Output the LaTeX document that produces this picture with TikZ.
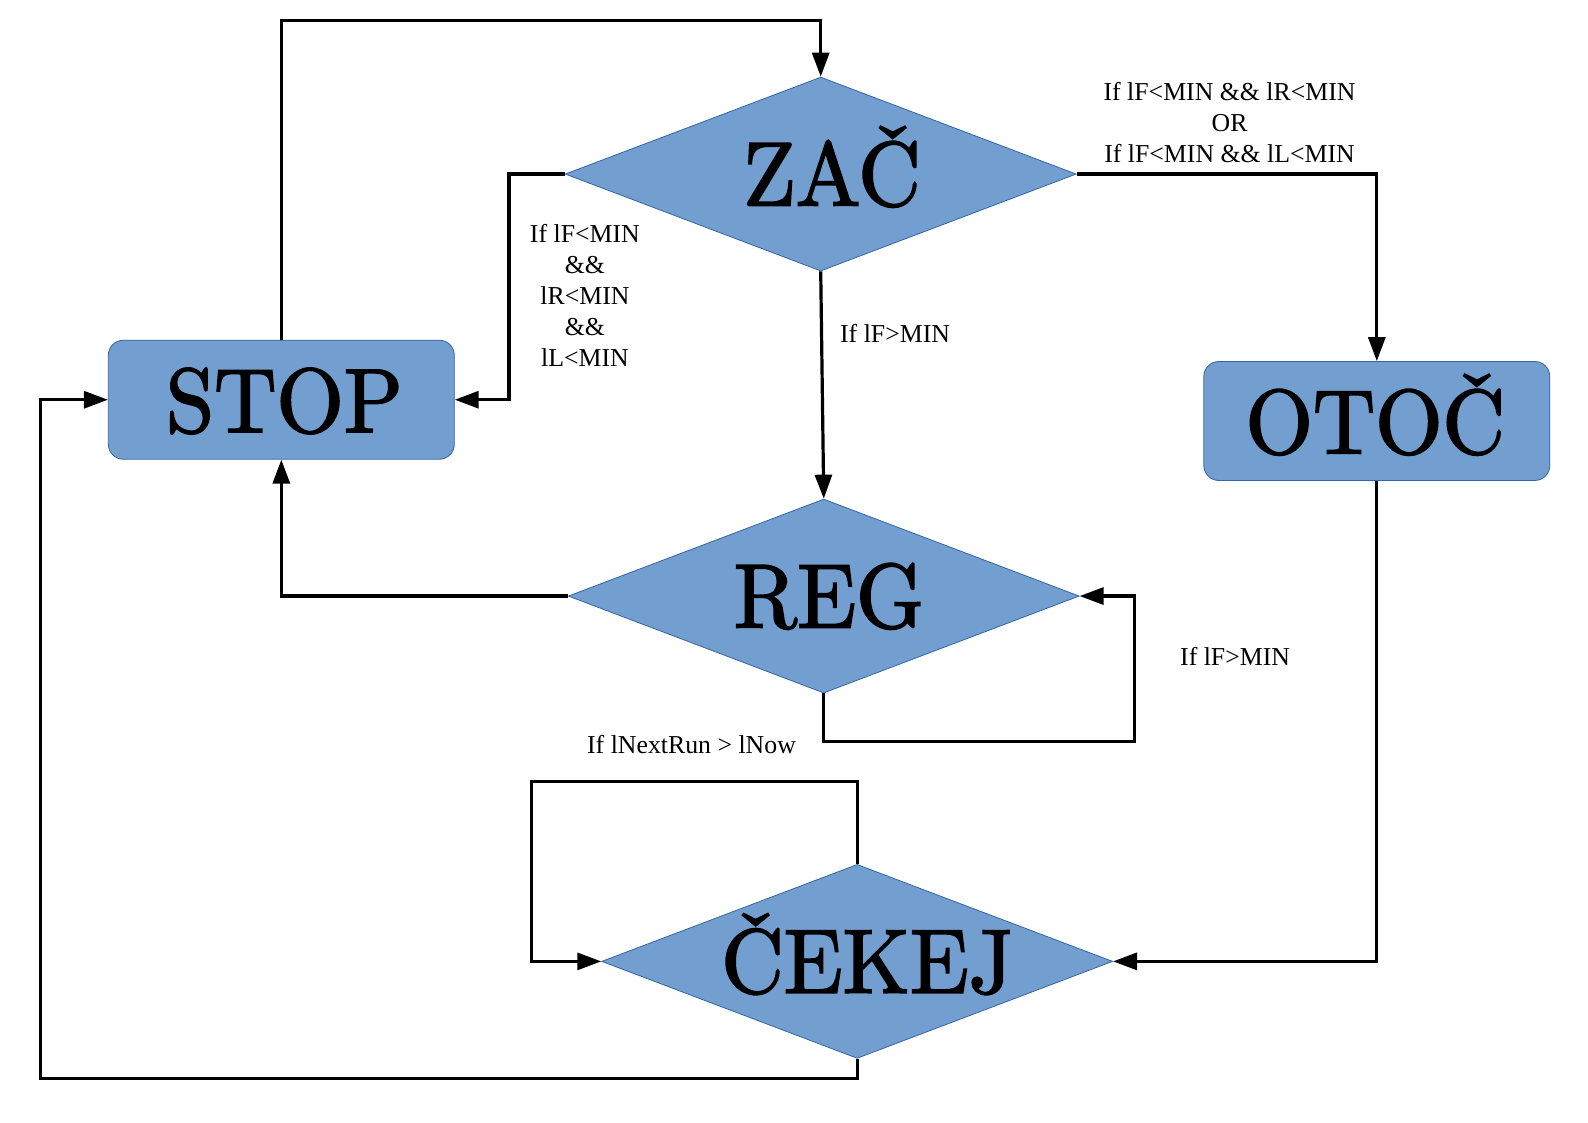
\documentclass[tikz,border=0pt]{standalone}
\usepackage{fontspec}
\usetikzlibrary{shapes.geometric,arrows.meta}
\newfontfamily\lblfont{Liberation Serif}
\newfontfamily\bigfont{lmroman10-regular}[Extension=.otf, FakeBold=2, FakeStretch=0.95]
\definecolor{boxfill}{HTML}{729FCF}
\definecolor{boxline}{HTML}{3465A4}
\tikzset{
  dia/.style={diamond, fill=boxfill, draw=boxline, line width=0.8pt, inner sep=0pt,
              minimum width=511pt, minimum height=194pt},
  roundbox/.style={rectangle, rounded corners=15pt, fill=boxfill, draw=boxline, line width=0.8pt,
              minimum width=346pt, minimum height=119pt, inner sep=0pt},
  bigtxt/.style={anchor=base, inner sep=0pt, font=\bigfont\fontsize{91}{91}\selectfont},
  lbl/.style={inner sep=0pt, align=center, font=\lblfont\fontsize{25.8}{30.9}\selectfont},
  conn/.style={line width=3.2pt, -{Triangle[length=24pt,width=17pt]}}
}
\begin{document}
\begin{tikzpicture}[x=1.012pt,y=-1.012pt]
\useasboundingbox (0,0) rectangle (1569.2,1109.7);
% shapes
\node[dia] (zac) at (811,172) {};
\node[dia] (reg) at (814,589) {};
\node[dia] (cek) at (847,950) {};
\node[roundbox] (stop) at (278,395) {};
\node[roundbox] (otoc) at (1360.5,416) {};
% texts in shapes
\node[bigtxt] (tzac) at (822,203) {ZAČ};
\node[bigtxt] (treg) at (819,620) {REG};
\node[bigtxt] (tcek) at (857,981) {ČEKEJ};
\node[bigtxt] (tstop) at (281,427) {STOP};
\node[bigtxt] (totoc) at (1359,448) {OTOČ};
% helper coordinates
\coordinate (c1) at (278,20);
\coordinate (c2) at (503,172);
\coordinate (c6) at (1121,733);
\coordinate (c8) at (525,772);
\coordinate (c10) at (40,1066);
% connectors
\draw[conn] (stop.north) -- (c1) -| (zac.north);
\draw[conn] (zac.west) -- (c2) |- (stop.east);
\draw[conn] (zac.south) -- (reg.north);
\draw[conn] (zac.east) -| (otoc.north);
\draw[conn] (reg.west) -| (stop.south);
\draw[conn] (reg.south) |- (c6) |- (reg.east);
\draw[conn] (cek.north) |- (c8) |- (cek.west);
\draw[conn] (otoc.south) |- (cek.east);
\draw[conn] (cek.south) |- (c10) |- (stop.west);
% labels
\node[lbl] (l1) at (578,292) {If lF<MIN\\\&\&\\lR<MIN\\\&\&\\lL<MIN};
\node[lbl, anchor=base west] (l2) at (830,338) {If lF>MIN};
\node[lbl] (l3) at (1215,121) {If lF<MIN \&\& lR<MIN\\OR\\If lF<MIN \&\& lL<MIN};
\node[lbl, anchor=base west] (l4) at (1166,658) {If lF>MIN};
\node[lbl, anchor=base west] (l5) at (580,745) {If lNextRun > lNow};
\end{tikzpicture}
\end{document}
